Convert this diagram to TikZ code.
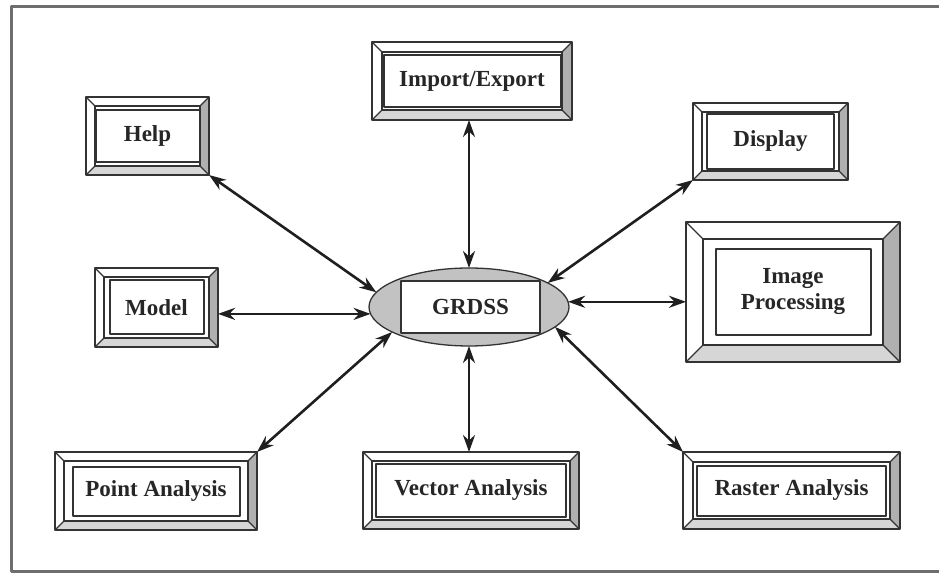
\documentclass[tikz,border=0pt]{standalone}
\usepackage{fontspec}
\setmainfont{Liberation Serif}
\usetikzlibrary{arrows.meta,shapes.geometric}
\definecolor{bevlight}{HTML}{D6D6D6}
\definecolor{bevdark}{HTML}{B0B0B0}
\definecolor{edgegray}{HTML}{333333}
\definecolor{ellgray}{HTML}{C2C2C2}
\definecolor{framegray}{HTML}{6E6E6E}
% bevelled frame round node #1, bevel width #2
\newcommand{\bevelbox}[2]{%
	\fill[bevlight] (#1.south west) -- (#1.south east) -- ([shift={(-#2,#2)}]#1.south east) -- ([shift={(#2,#2)}]#1.south west) -- cycle;
	\fill[bevdark] (#1.south east) -- (#1.north east) -- ([shift={(-#2,-#2)}]#1.north east) -- ([shift={(-#2,#2)}]#1.south east) -- cycle;
	\draw[bevline] (#1.north west) rectangle (#1.south east);
	\draw[bevline] (#1.north west) -- ++(#2,-#2) (#1.north east) -- ++(-#2,-#2) (#1.south west) -- ++(#2,#2) (#1.south east) -- ++(-#2,#2);
	\draw[bevline] ([shift={(#2,-#2)}]#1.north west) rectangle ([shift={(-#2,#2)}]#1.south east);
}
\begin{document}
\begin{tikzpicture}[x=1pt,y=1pt,line join=round,
	outerbox/.style={rectangle,inner sep=0pt,outer sep=0pt,fill=white},
	label/.style={rectangle,draw=edgegray,line width=2pt,fill=white,inner sep=0pt,outer sep=0pt,
		font=\fontsize{23}{26}\selectfont\bfseries,text=black!85,align=center},
	bevline/.style={draw=edgegray,line width=1.3pt},
	link/.style={{Stealth[length=17pt,width=12pt]}-{Stealth[length=17pt,width=12pt]},line width=2.6pt,draw=black!88}]
	\useasboundingbox (0,0) rectangle (939,573);
	\draw[framegray,line width=3pt] (945,566) -- (11,566) -- (11,2) -- (945,2);
	% boxes
	\node[outerbox,minimum width=123,minimum height=78] (help) at (147.5,437) {};
	\node[outerbox,minimum width=200,minimum height=78] (import) at (472,492) {};
	\node[outerbox,minimum width=155,minimum height=77] (display) at (770.5,431.5) {};
	\node[outerbox,minimum width=214,minimum height=140] (image) at (793,281) {};
	\node[outerbox,minimum width=123,minimum height=79] (model) at (156.5,265.5) {};
	\node[outerbox,minimum width=202,minimum height=78] (point) at (156,82) {};
	\node[outerbox,minimum width=216,minimum height=77] (vector) at (471,82.5) {};
	\node[outerbox,minimum width=217,minimum height=77] (raster) at (791.5,82.5) {};
	\bevelbox{help}{9}
	\bevelbox{import}{10}
	\bevelbox{display}{9}
	\bevelbox{image}{17}
	\bevelbox{model}{9}
	\bevelbox{point}{9}
	\bevelbox{vector}{9}
	\bevelbox{raster}{10}
	\node[label,minimum width=104,minimum height=52] (help-t) at (help) {Help};
	\node[label,minimum width=177,minimum height=52] (import-t) at (import) {Import/Export};
	\node[label,minimum width=127,minimum height=55] (display-t) at (display) {Display};
	\node[label,minimum width=155,minimum height=86] (image-t) at (image) {Image\\Processing};
	\node[label,minimum width=94,minimum height=54] (model-t) at (model) {Model};
	\node[label,minimum width=167,minimum height=49] (point-t) at (point) {Point Analysis};
	\node[label,minimum width=190,minimum height=53] (vector-t) at (vector) {Vector Analysis};
	\node[label,minimum width=189,minimum height=50] (raster-t) at (raster) {Raster Analysis};
	% centre
	\node[ellipse,draw=edgegray,line width=1.3pt,fill=ellgray,inner sep=0pt,outer sep=0pt,
		minimum width=200,minimum height=78] (grdss) at (469,266) {};
	\node[label,minimum width=139,minimum height=52] (grdss-t) at (470.5,266) {GRDSS};
	% links
	\draw[link] (help.south east) -- (grdss.171);
	\draw[link] (grdss.north) -- (grdss.north |- import.south);
	\draw[link] (display.south west) -- (grdss.17);
	\draw[link] (grdss.3) -- (grdss.3 -| image.west);
	\draw[link] (grdss.184) -- (grdss.184 -| model.east);
	\draw[link] (point.north east) -- (grdss.198);
	\draw[link] (grdss.south) -- (grdss.south |- vector.north);
	\draw[link] (raster.north west) -- (grdss.-13);
\end{tikzpicture}
\end{document}
